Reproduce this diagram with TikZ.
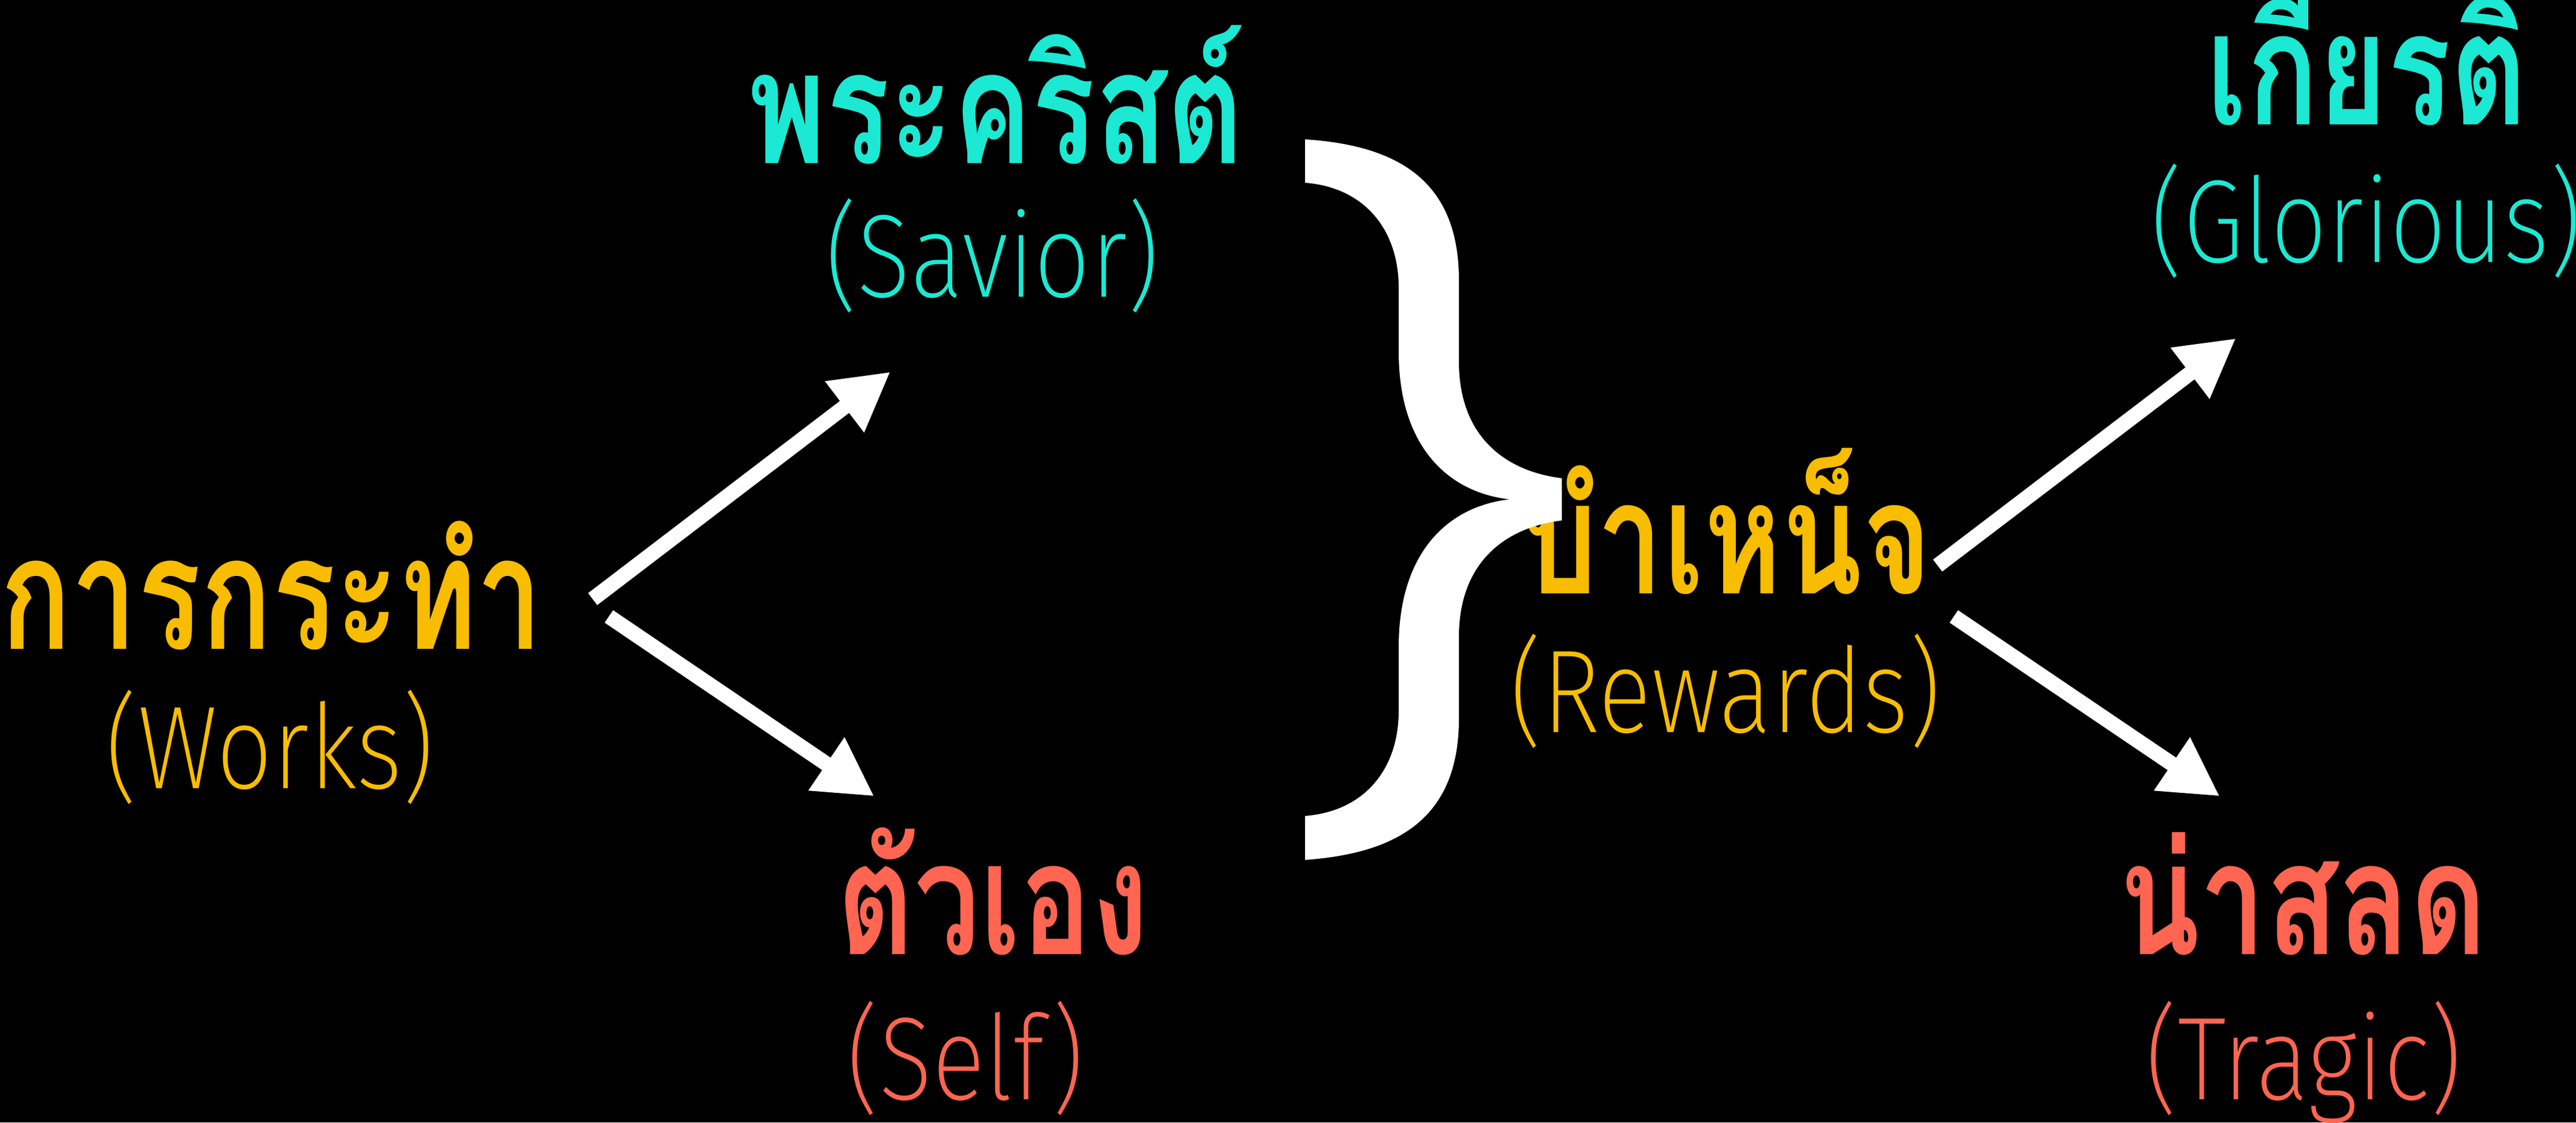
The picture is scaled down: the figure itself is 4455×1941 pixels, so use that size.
\documentclass[tikz,border=0pt]{standalone}
\usepackage{fontspec}
\usetikzlibrary{arrows.meta}
\newfontfamily\thaifont[Script=Thai,FakeStretch=0.75]{Loma}
\newfontfamily\engfont[FakeStretch=0.84]{Fira Sans ExtraLight}
\definecolor{cteal}{HTML}{1BE9D3}
\definecolor{cgold}{HTML}{F8BD00}
\definecolor{ccoral}{HTML}{FF6550}
\begin{document}
\begin{tikzpicture}[x=0.25pt,y=-0.25pt,
  thaitext/.style={anchor=base, inner sep=0pt, font=\thaifont\bfseries\fontsize{68pt}{68pt}\selectfont},
  engtext/.style={anchor=base, inner sep=0pt, font=\engfont\fontsize{51pt}{51pt}\selectfont},
  arr/.style={draw=white, line width=6.5pt, -{Triangle[length=25pt,width=26pt]}}]
\fill[black] (0,0) rectangle (4455,1941);
\useasboundingbox (0,0) rectangle (4455,1941);
% texts
\node[thaitext, text=cgold] (works) at (470,1122) {การกระทำ};
\node[engtext, text=cgold] (worksen) at (467,1363) {(Works)};
\node[thaitext, text=cteal] (savior) at (1723,282) {พระคริสต์};
\node[engtext, text=cteal] (savioren) at (1716,513) {(Savior)};
\node[thaitext, text=ccoral] (self) at (1718,1650) {ตัวเอง};
\node[engtext, text=ccoral] (selfen) at (1670,1901) {(Self)};
\node[thaitext, text=cgold] (reward) at (2987,1026) {บำเหน็จ};
\node[engtext, text=cgold] (rewarden) at (2984,1266) {(Rewards)};
\node[thaitext, text=cteal] (glory) at (4094,215) {เกียรติ};
\node[engtext, text=cteal] (gloryen) at (4092,453) {(Glorious)};
\node[thaitext, text=ccoral] (tragic) at (3983,1650) {น่าสลด};
\node[engtext, text=ccoral] (tragicen) at (3984,1901) {(Tragic)};
% arrow ends
\coordinate (a1s) at (1025,1036); \coordinate (a1e) at (1540,643);
\coordinate (a2s) at (1053,1066); \coordinate (a2e) at (1512,1377);
\coordinate (a3s) at (3351,978);  \coordinate (a3e) at (3867,585);
\coordinate (a4s) at (3379,1066); \coordinate (a4e) at (3839,1377);
\draw[arr] (a1s) -- (a1e);
\draw[arr] (a2s) -- (a2e);
\draw[arr] (a3s) -- (a3e);
\draw[arr] (a4s) -- (a4e);
% brace
\fill[white] (2257,241) .. controls (2410,251) and (2523,307) .. (2523,484)
  -- (2523,625) .. controls (2523,761) and (2610,816) .. (2701,827)
  -- (2701,900) .. controls (2610,911) and (2523,966) .. (2523,1102)
  -- (2523,1243) .. controls (2523,1420) and (2410,1476) .. (2257,1487)
  -- (2257,1411) .. controls (2360,1403) and (2419,1330) .. (2419,1229)
  -- (2419,1118) .. controls (2419,960) and (2500,876) .. (2611,863.5)
  .. controls (2500,851) and (2419,767) .. (2419,609)
  -- (2419,498) .. controls (2419,397) and (2360,324) .. (2257,316) -- cycle;
\end{tikzpicture}
\end{document}
